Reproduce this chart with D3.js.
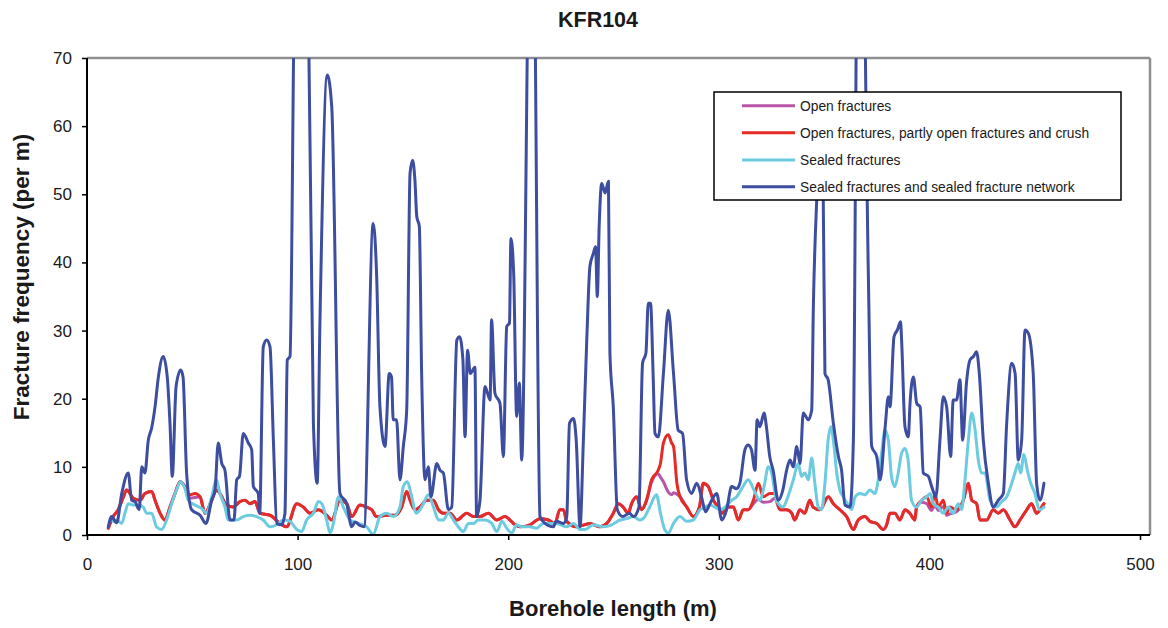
<!DOCTYPE html>
<html>
<head>
<meta charset="utf-8">
<script src="https://cdn.jsdelivr.net/npm/d3@7"></script>
<style>
  html, body { margin: 0; padding: 0; background: #fff; }
  svg { display: block; font-family: "Liberation Sans", Arial, sans-serif; }
</style>
</head>
<body>
<svg id="chart" width="1168" height="628"></svg>
<script>
// ---------------- DATA ----------------
const chartTitle = "KFR104";
const xTicks = [0, 100, 200, 300, 400, 500];
const yTicks = [0, 10, 20, 30, 40, 50, 60, 70];
const seriesNames = [
  "Open fractures",
  "Open fractures, partly open fractures and crush",
  "Sealed fractures",
  "Sealed fractures and sealed fracture network"
];

// Open fractures, partly open fractures and crush (red); open fractures (magenta) share the same lengths
const openCrushLength = [
  10.1, 12.4, 14.8, 17.3, 18.8, 22.0, 25.2, 27.5, 30.7, 32.3,
  34.7, 37.0, 39.4, 41.8, 44.2, 46.5, 48.9, 51.3, 53.7, 56.0,
  59.2, 61.5, 63.1, 66.3, 69.4, 72.6, 75.0, 77.4, 79.8, 82.1,
  86.9, 91.6, 94.8, 99.6, 102.7, 105.9, 109.9, 113.8, 116.2, 120.1,
  123.3, 125.7, 129.6, 132.8, 135.2, 137.5, 142.3, 146.2, 149.4, 151.8,
  153.4, 155.7, 158.1, 161.3, 164.5, 166.9, 169.2, 172.4, 175.6, 180.3,
  183.5, 186.6, 190.6, 194.6, 198.5, 202.5, 205.6, 210.4, 215.1, 219.1,
  222.2, 224.5, 226.2, 227.8, 232.5, 238.8, 243.6, 246.8, 249.9, 252.3,
  254.6, 257.0, 258.6, 261.0, 263.3, 265.7, 268.1, 271.2, 272.3, 273.7,
  276.0, 277.6, 278.5, 280.1, 281.6, 284.8, 287.9, 290.8, 292.6, 295.0,
  297.4, 299.8, 301.8, 303.7, 306.9, 309.3, 311.6, 314.0, 316.4, 318.8,
  321.1, 324.3, 326.6, 329.0, 332.2, 334.6, 336.1, 338.5, 340.8, 343.2,
  344.8, 348.0, 352.0, 354.4, 357.5, 360.7, 363.9, 366.2, 369.4, 371.8,
  375.0, 378.1, 379.7, 381.3, 383.6, 386.0, 388.4, 390.7, 393.1, 393.9,
  396.3, 398.7, 401.0, 402.6, 404.2, 406.6, 408.2, 409.7, 412.9, 416.1,
  418.5, 420.1, 422.4, 424.0, 427.2, 430.3, 432.7, 435.1, 438.3, 440.6,
  443.0, 446.2, 448.5, 450.9, 453.3, 454.4
];
const openCrushFreq = [
  1.0, 2.7, 3.7, 5.6, 6.6, 5.4, 5.1, 6.1, 6.4, 5.1,
  3.2, 2.2, 4.1, 6.1, 7.8, 7.1, 5.9, 6.1, 5.6, 3.2,
  5.1, 6.6, 6.1, 4.4, 4.1, 4.9, 5.1, 4.6, 4.9, 3.2,
  2.9, 1.7, 1.2, 4.6, 4.1, 3.2, 3.7, 2.9, 2.2, 5.1,
  4.6, 2.7, 4.4, 4.1, 3.7, 2.7, 2.9, 2.9, 4.1, 6.4,
  5.1, 3.7, 4.1, 5.1, 5.1, 3.7, 3.2, 3.2, 2.2, 3.2,
  2.7, 2.7, 3.2, 2.2, 2.7, 1.7, 1.2, 1.5, 2.4, 2.2,
  1.7, 3.7, 3.7, 2.0, 1.2, 1.7, 1.2, 1.7, 3.2, 4.6,
  4.1, 3.2, 4.6, 5.6, 3.7, 5.1, 8.1, 9.5, 10.5, 13.5,
  14.7, 13.5, 13.0, 7.6, 5.6, 4.1, 2.7, 4.1, 7.6, 7.1,
  5.1, 4.1, 3.2, 4.1, 4.1, 2.2, 3.7, 3.7, 5.1, 7.6,
  5.6, 6.1, 6.1, 3.7, 3.7, 3.2, 2.2, 3.7, 3.2, 5.1,
  4.1, 3.7, 5.6, 4.6, 3.7, 2.7, 0.8, 2.2, 2.7, 2.0,
  1.7, 0.8, 1.5, 3.2, 3.2, 2.2, 3.7, 3.2, 2.2, 4.1,
  5.1, 5.6, 4.1, 6.1, 4.1, 5.1, 3.2, 4.1, 3.7, 5.1,
  7.6, 5.1, 4.6, 2.2, 2.2, 3.7, 3.2, 3.7, 2.2, 1.2,
  2.2, 3.7, 4.6, 3.2, 4.1, 4.6
];
const openFreq = [
  1.0, 2.7, 3.7, 5.6, 6.6, 5.4, 5.1, 6.1, 6.4, 5.1,
  3.2, 2.2, 4.1, 6.1, 7.8, 7.1, 5.4, 5.5, 5.6, 3.2,
  5.1, 6.6, 6.1, 4.4, 4.1, 4.9, 5.1, 4.6, 4.9, 3.2,
  2.9, 1.7, 1.2, 4.6, 4.1, 3.2, 3.7, 2.9, 2.2, 5.1,
  4.6, 2.7, 4.4, 4.1, 3.7, 2.7, 2.9, 2.9, 4.1, 6.4,
  5.1, 3.7, 4.1, 5.1, 5.1, 3.7, 3.2, 3.2, 2.2, 3.2,
  2.7, 2.7, 3.2, 2.2, 2.7, 1.7, 1.2, 1.5, 2.4, 2.2,
  1.7, 3.7, 3.7, 2.0, 1.2, 1.7, 1.2, 1.7, 3.2, 4.6,
  4.1, 3.2, 4.6, 5.6, 3.7, 5.1, 7.8, 9.0, 8.5, 7.8,
  6.3, 5.9, 6.2, 6.0, 5.6, 4.1, 2.7, 4.1, 7.6, 7.1,
  5.1, 4.1, 3.2, 4.1, 4.1, 2.2, 3.7, 3.7, 4.6, 5.2,
  4.8, 4.9, 5.4, 3.7, 3.7, 3.2, 2.2, 3.7, 3.2, 5.1,
  4.1, 3.7, 5.6, 4.6, 3.7, 2.7, 0.8, 2.2, 2.7, 2.0,
  1.7, 0.8, 1.5, 3.2, 3.2, 2.2, 3.7, 3.2, 2.2, 4.1,
  4.8, 4.6, 3.6, 4.4, 3.6, 4.2, 2.9, 3.1, 3.4, 5.1,
  7.6, 5.1, 4.6, 2.2, 2.2, 3.7, 3.2, 3.7, 2.2, 1.2,
  2.2, 3.7, 4.6, 3.2, 4.1, 4.6
];

// Sealed fractures (cyan)
const sealedLength = [
  12.4, 14.1, 16.5, 18.0, 19.6, 22.0, 24.4, 26.7, 28.3, 30.7,
  33.0, 35.4, 37.8, 40.2, 42.5, 44.4, 46.5, 48.1, 51.3, 54.4,
  56.8, 59.2, 61.5, 63.1, 65.5, 67.0, 71.0, 74.2, 77.4, 80.5,
  83.7, 86.9, 90.1, 93.2, 96.4, 99.6, 101.9, 104.3, 107.5, 109.9,
  111.5, 113.8, 115.4, 117.0, 119.4, 121.7, 124.9, 128.8, 132.8, 135.9,
  139.1, 142.3, 145.4, 148.6, 150.2, 152.1, 154.2, 156.2, 158.1, 159.7,
  162.1, 164.5, 166.9, 169.2, 171.6, 174.0, 176.3, 178.7, 181.1, 183.5,
  185.8, 189.0, 192.2, 194.6, 197.0, 199.3, 201.7, 204.0, 206.4, 210.4,
  213.5, 216.7, 219.1, 222.9, 227.8, 231.0, 234.1, 236.5, 240.4, 245.2,
  249.1, 253.1, 256.2, 259.4, 262.5, 264.9, 267.2, 270.4, 272.3, 274.3,
  276.0, 278.5, 281.6, 284.8, 287.9, 291.1, 293.5, 295.8, 298.2, 300.6,
  303.0, 306.1, 308.5, 310.9, 314.0, 316.4, 319.6, 321.5, 323.5, 325.1,
  327.4, 330.6, 332.2, 335.4, 337.7, 339.3, 340.9, 342.5, 344.1, 345.6,
  347.2, 348.8, 350.4, 351.9, 353.2, 354.4, 356.0, 357.5, 359.1, 361.5,
  363.1, 364.7, 367.0, 369.4, 371.8, 374.1, 375.7, 377.3, 378.9, 380.5,
  382.0, 383.6, 385.2, 386.8, 388.4, 389.9, 391.5, 393.9, 396.3, 398.7,
  400.3, 401.8, 404.2, 406.6, 409.0, 411.3, 413.7, 415.3, 416.9, 418.5,
  420.1, 421.7, 423.2, 424.8, 426.4, 428.8, 431.9, 434.3, 436.7, 439.1,
  440.6, 442.2, 443.3, 444.9, 446.5, 448.1, 450.1, 452.2, 454.4
];
const sealedFreq = [
  2.0, 2.2, 1.7, 3.2, 4.6, 4.4, 4.4, 4.1, 3.2, 3.2,
  1.2, 0.8, 2.2, 4.6, 6.6, 7.8, 6.8, 5.1, 4.4, 3.9,
  3.2, 5.6, 8.1, 6.1, 4.1, 2.2, 2.2, 2.7, 2.9, 2.7,
  2.2, 1.2, 1.5, 2.2, 2.0, 0.8, 0.5, 2.2, 3.2, 4.9,
  4.6, 2.2, 0.3, 1.7, 5.6, 4.1, 2.2, 1.7, 1.2, 0.1,
  2.7, 3.2, 2.7, 4.1, 7.1, 7.8, 5.6, 3.2, 3.7, 4.6,
  5.9, 4.1, 2.2, 2.2, 3.2, 2.2, 1.2, 0.5, 1.7, 1.7,
  2.2, 2.2, 1.7, 0.5, 2.0, 1.0, 0.3, 1.5, 1.2, 1.2,
  1.0, 1.7, 1.7, 1.7, 1.2, 1.7, 0.8, 0.8, 1.5, 1.2,
  1.5, 2.2, 2.4, 2.7, 2.2, 2.7, 4.1, 5.9, 3.2, 0.8,
  0.3, 1.7, 2.7, 2.0, 2.2, 3.7, 4.1, 4.4, 4.1, 3.7,
  4.1, 5.1, 5.6, 6.8, 8.1, 6.8, 5.1, 7.1, 10.0, 9.1,
  5.1, 4.1, 5.1, 8.1, 10.5, 8.6, 9.1, 8.1, 11.3, 7.6,
  4.1, 3.7, 7.6, 13.9, 15.9, 13.9, 9.1, 6.6, 5.6, 4.4,
  3.7, 5.6, 6.1, 5.9, 6.6, 6.1, 8.1, 12.0, 15.4, 13.9,
  8.6, 7.1, 9.1, 12.0, 12.7, 11.0, 5.1, 4.1, 5.1, 5.6,
  6.1, 4.6, 4.1, 3.2, 4.1, 3.2, 4.6, 3.7, 8.1, 13.9,
  17.9, 15.4, 11.0, 9.1, 9.1, 5.1, 4.1, 4.9, 5.6, 7.6,
  9.1, 10.5, 9.1, 11.8, 9.5, 7.6, 6.1, 3.7, 4.1
];

// Sealed fractures and sealed fracture network (dark blue)
const networkLength = [
  10.1, 11.7, 14.1, 16.5, 19.6, 21.2, 22.8, 24.8, 26.0, 27.5,
  29.1, 30.7, 32.3, 33.9, 36.2, 38.1, 39.4, 40.5, 42.3, 44.5,
  45.6, 47.3, 49.7, 53.7, 56.5, 59.2, 60.8, 62.3, 64.0, 65.5,
  67.9, 69.8, 71.1, 72.4, 74.2, 76.6, 78.2, 79.0, 81.3, 82.0,
  83.7, 85.3, 86.9, 88.5, 90.1, 92.4, 94.0, 95.1, 96.4, 98.7,
  101.5, 104.8, 107.5, 109.3, 110.6, 114.1, 116.2, 120.1, 123.3, 125.7,
  127.3, 129.6, 131.5, 135.9, 137.5, 139.1, 141.5, 143.5, 144.6, 145.4,
  147.0, 148.6, 150.2, 151.8, 153.4, 154.6, 155.7, 156.6, 157.8, 158.9,
  160.5, 162.1, 163.3, 166.1, 167.6, 169.2, 171.6, 173.2, 175.6, 176.9,
  178.5, 179.5, 180.7, 182.0, 184.2, 185.0, 186.6, 189.0, 191.4, 192.1,
  193.7, 196.1, 197.7, 199.3, 200.6, 201.3, 202.6, 204.0, 205.3, 206.4,
  210.5, 211.8, 215.1, 217.5, 221.4, 222.9, 226.2, 227.8, 229.1, 231.0,
  232.3, 234.1, 235.7, 237.3, 238.8, 240.4, 241.5, 242.3, 243.2, 244.4,
  246.0, 247.6, 248.3, 249.9, 251.8, 254.4, 257.6, 259.5, 262.1, 263.8,
  265.4, 266.5, 267.6, 268.8, 269.7, 271.3, 273.7, 276.0, 278.5, 280.7,
  282.8, 284.7, 287.1, 289.5, 291.8, 293.7, 295.8, 299.0, 301.4, 303.7,
  306.1, 308.4, 310.0, 312.4, 313.9, 315.5, 317.2, 318.2, 319.5, 321.5,
  322.6, 324.2, 325.8, 328.2, 330.4, 332.2, 333.8, 335.4, 337.0, 338.6,
  340.1, 342.5, 344.1, 344.9, 346.5, 348.0, 349.6, 350.4, 351.9, 354.4,
  356.8, 358.3, 359.9, 362.3, 363.9, 366.0, 368.0, 371.0, 372.6, 375.0,
  376.6, 379.0, 380.5, 381.3, 383.2, 384.8, 386.3, 386.8, 388.4, 390.0,
  390.8, 392.4, 394.0, 395.6, 397.1, 399.5, 401.1, 403.1, 405.0, 406.6,
  408.2, 410.1, 411.3, 412.9, 414.5, 415.8, 417.6, 419.3, 420.9, 422.4,
  423.7, 425.6, 428.0, 430.3, 432.7, 435.1, 436.7, 439.1, 440.7, 442.2,
  443.8, 445.4, 447.0, 449.3, 450.9, 452.5, 454.4
];
const networkFreq = [
  1.2, 2.7, 1.8, 6.1, 9.1, 5.1, 4.9, 3.7, 10.0, 9.1,
  13.9, 15.7, 18.8, 23.2, 26.2, 23.2, 16.4, 8.6, 21.8, 24.2,
  23.2, 9.1, 3.7, 2.9, 1.7, 5.1, 6.6, 13.5, 10.5, 9.5,
  2.2, 2.2, 8.1, 8.6, 14.9, 13.5, 12.5, 7.1, 6.1, 3.2,
  27.6, 28.6, 27.6, 13.9, 1.7, 1.5, 3.2, 25.7, 26.2, 85,
  100, 85, 16.4, 7.6, 31.1, 67.5, 62.9, 6.1, 4.6, 1.2,
  1.9, 1.4, 1.2, 45.7, 38.4, 18.8, 13.0, 23.7, 23.2, 16.9,
  16.9, 8.1, 13.0, 18.3, 53.1, 55.0, 52.1, 46.7, 45.3, 23.7,
  8.1, 10.0, 5.6, 10.5, 9.5, 9.1, 3.7, 4.1, 28.6, 29.1,
  25.7, 14.4, 27.1, 23.7, 24.6, 2.7, 5.1, 21.8, 19.8, 31.6,
  20.8, 19.3, 11.5, 30.6, 31.1, 43.5, 38.4, 17.4, 22.3, 11.0,
  95, 95, 2.7, 1.7, 1.2, 2.0, 1.7, 2.7, 16.4, 17.1,
  13.9, 1.2, 13.9, 28.6, 39.4, 41.3, 42.3, 35.0, 45.3, 51.6,
  50.2, 51.9, 26.7, 18.8, 3.7, 2.7, 3.2, 2.7, 4.1, 25.2,
  26.7, 34.0, 34.0, 23.7, 14.9, 14.4, 23.7, 33.0, 23.7, 15.4,
  14.9, 8.1, 6.1, 7.6, 5.6, 3.4, 4.6, 6.1, 2.2, 3.7,
  7.1, 6.8, 7.6, 12.5, 13.2, 12.5, 9.5, 16.9, 15.9, 17.9,
  15.9, 11.5, 9.5, 5.1, 6.6, 9.5, 11.0, 10.0, 13.0, 10.5,
  17.9, 16.9, 18.3, 33.5, 49.2, 58, 49.2, 23.7, 22.8, 16.4,
  11.5, 9.5, 4.4, 4.1, 13.9, 95, 95, 38.4, 13.0, 11.5,
  8.1, 15.9, 20.3, 18.8, 29.1, 30.1, 31.3, 28.6, 15.9, 14.4,
  19.3, 23.2, 19.3, 18.8, 9.1, 8.6, 7.1, 5.6, 13.9, 20.3,
  18.8, 11.5, 19.8, 19.8, 22.8, 13.9, 22.3, 25.7, 26.2, 26.9,
  23.7, 13.9, 7.6, 4.1, 5.1, 6.1, 16.4, 25.2, 23.7, 11.0,
  13.9, 30.1, 29.6, 23.7, 7.6, 5.1, 7.6
];

const seriesColors = ["#B955A8", "#E52B26", "#6DCBE0", "#3D4DA0"];

// ---------------- LAYOUT ----------------
const plotLeft = 87, plotRight = 1150, plotTop = 58, plotBottom = 535;
const svg = d3.select("#chart");

const x = d3.scaleLinear().domain([0, 500]).range([plotLeft, 1140]);
const y = d3.scaleLinear().domain([0, 70]).range([plotBottom, plotTop]);

// clip
svg.append("defs").append("clipPath").attr("id", "plotClip")
  .append("rect")
  .attr("x", plotLeft).attr("y", plotTop)
  .attr("width", plotRight - plotLeft).attr("height", plotBottom - plotTop);

// frame (top & right gray)
svg.append("line").attr("x1", plotLeft).attr("x2", plotRight)
  .attr("y1", plotTop).attr("y2", plotTop)
  .attr("stroke", "#8f8f8f").attr("stroke-width", 2.5);
svg.append("line").attr("x1", plotRight).attr("x2", plotRight)
  .attr("y1", plotTop).attr("y2", plotBottom)
  .attr("stroke", "#8f8f8f").attr("stroke-width", 2.5);

// series
const series = [
  { xs: openCrushLength, ys: openFreq },
  { xs: openCrushLength, ys: openCrushFreq },
  { xs: sealedLength, ys: sealedFreq },
  { xs: networkLength, ys: networkFreq }
];
const line = d3.line()
  .x(d => x(d[0]))
  .y(d => y(d[1]))
  .curve(d3.curveMonotoneX);

const gLines = svg.append("g").attr("clip-path", "url(#plotClip)");
series.forEach((s, i) => {
  const pts = s.xs.map((v, k) => [v, s.ys[k]]);
  gLines.append("path")
    .datum(pts)
    .attr("d", line)
    .attr("fill", "none")
    .attr("stroke", seriesColors[i])
    .attr("stroke-width", 3)
    .attr("stroke-linejoin", "round")
    .attr("stroke-linecap", "round");
});

// axes
const yAxis = svg.append("g")
  .attr("transform", `translate(${plotLeft},0)`)
  .call(d3.axisLeft(y).tickValues(yTicks).tickSize(5).tickSizeOuter(0).tickPadding(10));
yAxis.select(".domain").remove();
yAxis.selectAll("line").attr("stroke", "#000").attr("stroke-width", 1.5);
yAxis.selectAll("text").attr("font-size", 17).attr("fill", "#1a1a1a")
  .attr("font-family", "Liberation Sans, Arial, sans-serif");

const xAxis = svg.append("g")
  .attr("transform", `translate(0,${plotBottom})`)
  .call(d3.axisBottom(x).tickValues(xTicks).tickSize(5).tickSizeOuter(0).tickPadding(18));
xAxis.select(".domain").remove();
xAxis.selectAll("line").attr("stroke", "#000").attr("stroke-width", 1.5);
xAxis.selectAll("text").attr("font-size", 17).attr("fill", "#1a1a1a")
  .attr("font-family", "Liberation Sans, Arial, sans-serif");

// axis lines (black)
svg.append("line").attr("x1", plotLeft).attr("x2", plotRight)
  .attr("y1", plotBottom).attr("y2", plotBottom)
  .attr("stroke", "#000").attr("stroke-width", 2);
svg.append("line").attr("x1", plotLeft).attr("x2", plotLeft)
  .attr("y1", plotTop).attr("y2", plotBottom + 1)
  .attr("stroke", "#000").attr("stroke-width", 2);

// title
svg.append("text")
  .attr("x", 598).attr("y", 27)
  .attr("text-anchor", "middle")
  .attr("font-size", 21.5).attr("font-weight", "bold").attr("fill", "#1a1a1a")
  .text(chartTitle);

// axis titles
svg.append("text")
  .attr("x", 613).attr("y", 616)
  .attr("text-anchor", "middle")
  .attr("font-size", 22).attr("font-weight", "bold").attr("fill", "#1a1a1a")
  .text("Borehole length (m)");
svg.append("text")
  .attr("transform", "translate(29,277) rotate(-90)")
  .attr("text-anchor", "middle")
  .attr("font-size", 22.5).attr("font-weight", "bold").attr("fill", "#1a1a1a")
  .text("Fracture frequency (per m)");

// legend
const lg = svg.append("g");
lg.append("rect")
  .attr("x", 714).attr("y", 92).attr("width", 407).attr("height", 108)
  .attr("fill", "#fff").attr("stroke", "#000").attr("stroke-width", 1.5);
const legendRows = [105.7, 132.7, 160, 186.7];
seriesNames.forEach((name, i) => {
  lg.append("line")
    .attr("x1", 742).attr("x2", 795)
    .attr("y1", legendRows[i]).attr("y2", legendRows[i])
    .attr("stroke", seriesColors[i]).attr("stroke-width", 3);
  lg.append("text")
    .attr("x", 800).attr("y", legendRows[i]).attr("dy", "0.35em")
    .attr("font-size", 13.8).attr("fill", "#1a1a1a")
    .text(name);
});
</script>
</body>
</html>
